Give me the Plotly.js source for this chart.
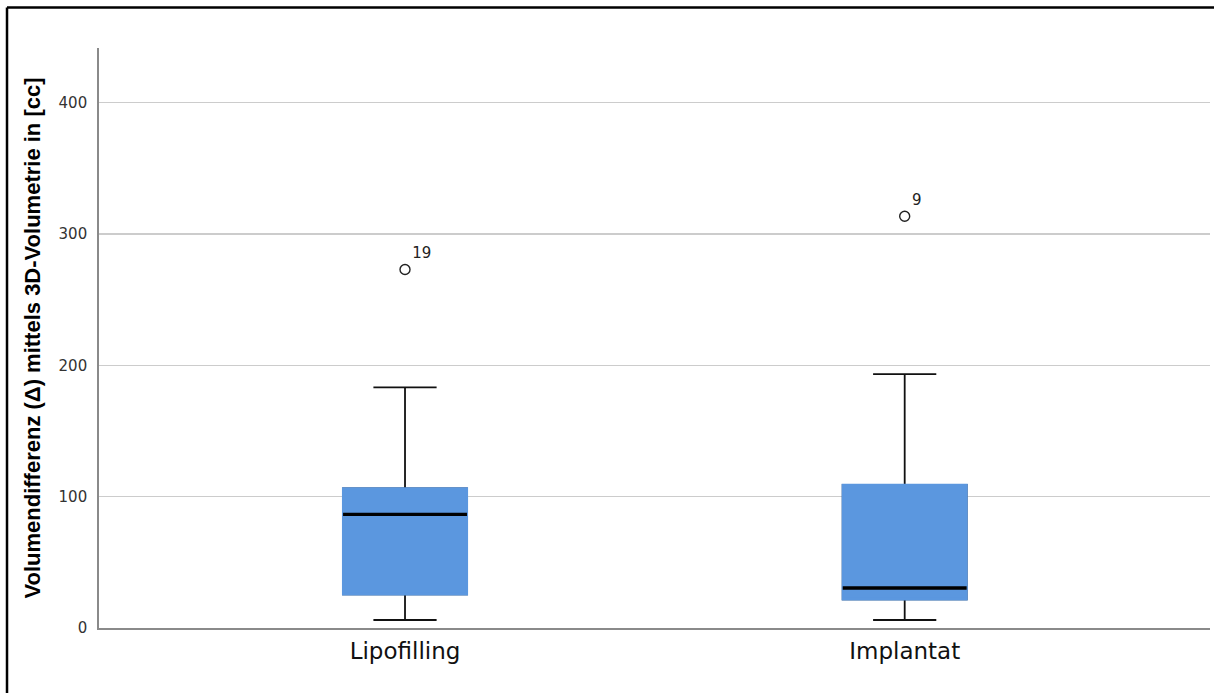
<!DOCTYPE html>
<html>
<head>
<meta charset="utf-8">
<script src="https://cdn.plot.ly/plotly-3.0.1.min.js"></script>
<style>html,body{margin:0;padding:0;background:#fff;}#chart{width:1214px;height:693px;}</style>
</head>
<body>
<div id="chart"></div>
<script>
// Data
const categories = ["Lipofilling", "Implantat"];
const lowerFence = [6.1, 6.1];
const q1 = [25.6, 21.8];
const median = [86.5, 30.4];
const q3 = [106.3, 109.0];
const upperFence = [183.2, 193.3];
const outlierValues = [273, 313.5];
const outlierLabels = ["19", "9"];
const yTicks = [0, 100, 200, 300, 400];

const boxBlue = "#5b97df";
const boxWidth = 0.248;

const traces = [];
// Box with black whiskers
traces.push({
  type: "box", x: categories, q1: q1, median: median, q3: q3,
  lowerfence: lowerFence, upperfence: upperFence,
  width: boxWidth, whiskerwidth: 0.51,
  fillcolor: boxBlue, line: {color: "#111", width: 1.8},
  boxpoints: false, hoverinfo: "skip", showlegend: false
});
// Cover the black box outline with the fill colour
traces.push({
  type: "box", x: categories, q1: q1, median: q1, q3: q3,
  lowerfence: q1, upperfence: q3,
  width: boxWidth, whiskerwidth: 0,
  fillcolor: boxBlue, line: {color: boxBlue, width: 2.2},
  boxpoints: false, hoverinfo: "skip", showlegend: false
});
// Median line
traces.push({
  type: "box", x: categories, q1: median, median: median, q3: median,
  lowerfence: median, upperfence: median,
  width: boxWidth, whiskerwidth: 0,
  fillcolor: "rgba(0,0,0,0)", line: {color: "#000", width: 3.4},
  boxpoints: false, hoverinfo: "skip", showlegend: false
});
// Outliers
traces.push({
  type: "scatter", mode: "markers+text", x: categories, y: outlierValues,
  text: outlierLabels, textposition: "top right",
  textfont: {family: "DejaVu Sans, sans-serif", size: 15, color: "#222"},
  marker: {symbol: "circle-open", size: 10, color: "#222", line: {width: 1.4, color: "#222"}},
  hoverinfo: "skip", showlegend: false, cliponaxis: false
});

const layout = {
  width: 1214, height: 693,
  margin: {l: 99, r: 4, t: 48, b: 65},
  paper_bgcolor: "#fff", plot_bgcolor: "#fff",
  boxmode: "overlay",
  showlegend: false,
  xaxis: {
    type: "category", range: [-0.6124, 1.611],
    showgrid: false, zeroline: false,
    showline: true, linecolor: "#8a8a8a", linewidth: 1.8,
    ticks: "", ticklabelstandoff: 2,
    tickfont: {family: "DejaVu Sans, sans-serif", size: 23, color: "#111"}
  },
  yaxis: {
    range: [0, 441.6], tickvals: yTicks, ticktext: yTicks.map(String),
    showgrid: true, gridcolor: "#cccccc", gridwidth: 1.6,
    zeroline: false,
    showline: true, linecolor: "#8a8a8a", linewidth: 1.8,
    ticks: "", ticklabelstandoff: 7,
    tickfont: {family: "DejaVu Sans, sans-serif", size: 15, color: "#333"},
    title: {text: "Volumendifferenz (Δ) mittels 3D-Volumetrie in [cc]",
            font: {family: "Liberation Sans, Arial, sans-serif", size: 22, color: "#000", weight: "bold"},
            standoff: 12}
  },
  shapes: [
    {type: "line", xref: "paper", yref: "paper", x0: -0.0828, x1: 1.01, y0: 1.0698, y1: 1.0698,
     line: {color: "#000", width: 2.5}},
    {type: "line", xref: "paper", yref: "paper", x0: -0.0828, x1: -0.0828, y0: 1.0698, y1: -0.12,
     line: {color: "#000", width: 2.5}}
  ]
};

Plotly.newPlot("chart", traces, layout, {displayModeBar: false, staticPlot: true});
</script>
</body>
</html>
